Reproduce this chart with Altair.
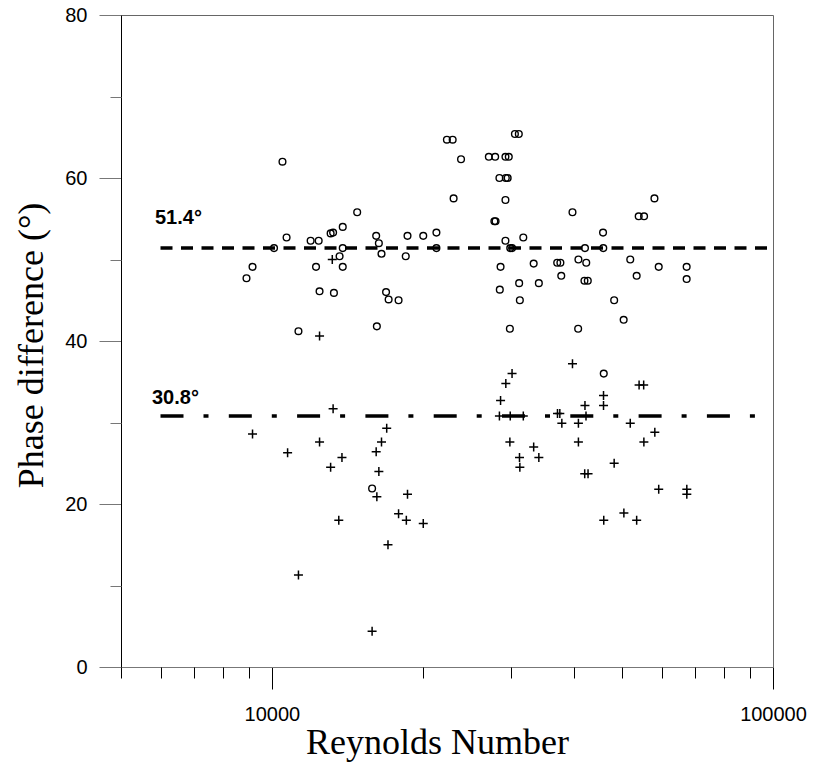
import altair as alt
import pandas as pd

# ---- data ----
circle_re = [8900, 9150, 10100, 10500, 10700, 11300, 11950, 12250, 12400, 12450,
             13100, 13250, 13300, 13650, 13850, 13850, 13850, 14800, 15850, 16150,
             16200, 16350, 16550, 16900, 17100, 17900, 18500, 18650, 20050, 21300,
             21300, 22350, 22950, 23050, 23850, 27100, 27900, 27800, 27950, 28450,
             28500, 28600, 29250, 29700, 29300, 29550, 29250, 29250, 29900, 30150,
             29850, 30550, 31100, 31150, 31250, 31750, 33300, 34100, 37100, 37650,
             37800, 39800, 40900, 40850, 42150, 42400, 42050, 42700, 45800, 45850,
             45950, 48200, 50350, 51900, 53450, 53950, 55300, 58000, 59150, 67250,
             67250]
circle_phase = [47.7, 49.1, 51.4, 62.0, 52.7, 41.2, 52.3, 49.1, 52.3, 46.1,
                53.2, 53.3, 45.9, 50.4, 54.0, 51.4, 49.1, 55.8, 21.9, 52.9,
                41.8, 52.0, 50.7, 46.0, 45.1, 45.0, 50.4, 52.9, 52.9, 53.3,
                51.4, 64.7, 64.7, 57.5, 62.3, 62.6, 62.6, 54.7, 54.7, 60.0,
                46.3, 49.1, 62.6, 62.6, 60.0, 60.0, 57.3, 52.3, 51.4, 51.4,
                41.5, 65.4, 65.4, 47.1, 45.0, 52.7, 49.5, 47.1, 49.6, 49.6,
                48.0, 55.8, 50.0, 41.5, 51.4, 49.6, 47.4, 47.4, 53.3, 51.4,
                36.0, 45.0, 42.6, 50.0, 48.0, 55.3, 55.3, 57.5, 49.1, 49.1,
                47.6]

cross_re = [9150, 10750, 11300, 12450, 12450, 13100, 13200, 13250, 13600, 13800,
            15850, 16150, 16200, 16350, 16550, 16950, 17050, 17900, 18550, 18650,
            20050, 28450, 28600, 29300, 29850, 29900, 30150, 31200, 31250, 31750,
            33300, 34100, 37150, 37550, 37900, 39800, 40900, 40900, 42150, 42350,
            42100, 42750, 45900, 45900, 45950, 48200, 50400, 51900, 53450, 54050,
            55200, 55250, 58100, 59150, 67300, 67300]
cross_phase = [28.6, 26.3, 11.3, 40.6, 27.6, 24.5, 50.0, 31.7, 18.0, 25.7,
               4.4, 26.4, 20.9, 24.0, 27.6, 29.3, 15.0, 18.8, 18.0, 21.2,
               17.6, 30.8, 32.7, 34.8, 27.6, 30.8, 36.0, 25.7, 24.5, 30.8,
               27.0, 25.7, 31.1, 31.1, 29.9, 37.2, 29.9, 27.6, 32.1, 30.8,
               23.7, 23.7, 33.3, 32.1, 18.0, 25.0, 18.9, 29.9, 18.0, 34.6,
               34.6, 27.6, 28.8, 21.8, 21.8, 21.2]

mean_lines = [51.4, 30.8]

x_major_ticks = [10000, 100000]
x_minor_ticks = [5000, 6000, 7000, 8000, 9000, 20000, 30000, 40000, 50000,
                 60000, 70000, 80000, 90000]
y_major_ticks = [0, 20, 40, 60, 80]
y_minor_ticks = [10, 30, 50, 70]

# ---- tables ----
circles = pd.DataFrame({"Re": circle_re, "phase": circle_phase})
crosses = pd.DataFrame({"Re": cross_re, "phase": cross_phase})
line_hi = pd.DataFrame({"v": [mean_lines[0]], "label": [f"{mean_lines[0]}°"]})
line_lo = pd.DataFrame({"v": [mean_lines[1]], "label": [f"{mean_lines[1]}°"]})

xscale = alt.Scale(type="log", domain=[5000, 100000], nice=False)
yscale = alt.Scale(domain=[0, 80], nice=False, zero=False)

SANS = "Liberation Sans"
SERIF = "Liberation Serif"

x_major = alt.Axis(orient="bottom", values=x_major_ticks, format="d", grid=False,
                   tickSize=22, tickColor="black", tickWidth=1,
                   domainColor="#777777", domainWidth=1,
                   labelFont=SANS, labelFontSize=20, labelColor="black",
                   labelBaseline="alphabetic", labelPadding=31,
                   labelFlush=False, labelOverlap=False, labelBound=False,
                   title="Reynolds Number", titleFont=SERIF, titleFontSize=36,
                   titleFontWeight="normal", titleColor="black",
                   titleX=316, titleY=86, titleAlign="center",
                   titleBaseline="alphabetic")
x_minor = alt.Axis(orient="bottom", values=x_minor_ticks, grid=False,
                   tickSize=11, tickColor="black", tickWidth=1,
                   labels=False, domain=False, title=None)
y_major = alt.Axis(orient="left", values=y_major_ticks, grid=False,
                   tickSize=22, tickColor="#777777", tickWidth=1,
                   domainColor="black", domainWidth=1,
                   labelFont=SANS, labelFontSize=20, labelColor="black",
                   labelPadding=12, labelBaseline="middle",
                   labelFlush=False, labelOverlap=False, labelBound=False,
                   title="Phase difference (°)", titleFont=SERIF,
                   titleFontSize=36, titleFontWeight="normal",
                   titleColor="black", titleX=-79, titleY=330,
                   titleAngle=270, titleAlign="center",
                   titleBaseline="alphabetic")
y_minor = alt.Axis(orient="left", values=y_minor_ticks, grid=False,
                   tickSize=11, tickColor="#777777", tickWidth=1,
                   labels=False, domain=False, title=None)

circ = alt.Chart(circles).mark_point(
    shape="circle", filled=False, size=45, strokeWidth=1.4,
    color="black", opacity=1
).encode(
    x=alt.X("Re:Q", scale=xscale, axis=x_major),
    y=alt.Y("phase:Q", scale=yscale, axis=y_major),
)

cross = alt.Chart(crosses).mark_point(
    shape="M -1 0 L 1 0 M 0 -1 L 0 1", filled=False, size=81,
    strokeWidth=1.5, color="black", opacity=1
).encode(
    x=alt.X("Re:Q", scale=xscale, axis=x_minor),
    y=alt.Y("phase:Q", scale=yscale, axis=y_minor),
)

rule_hi = alt.Chart(line_hi).mark_rule(
    color="black", strokeWidth=3.5, strokeDash=[12, 8.5]
).encode(
    y=alt.Y("v:Q", scale=yscale, axis=None),
    x=alt.value(39.5), x2=alt.value(652),
)
rule_lo = alt.Chart(line_lo).mark_rule(
    color="black", strokeWidth=3.5, strokeDash=[23, 20, 5, 20.3]
).encode(
    y=alt.Y("v:Q", scale=yscale, axis=None),
    x=alt.value(39.5), x2=alt.value(652),
)

text_hi = alt.Chart(line_hi).mark_text(
    align="left", baseline="alphabetic", dy=-24.4,
    font=SANS, fontSize=20, fontWeight="bold", color="black"
).encode(
    x=alt.value(34), y=alt.Y("v:Q", scale=yscale, axis=None), text="label:N"
)
text_lo = alt.Chart(line_lo).mark_text(
    align="left", baseline="alphabetic", dy=-11.7,
    font=SANS, fontSize=20, fontWeight="bold", color="black"
).encode(
    x=alt.value(31), y=alt.Y("v:Q", scale=yscale, axis=None), text="label:N"
)

chart = alt.layer(
    rule_hi, rule_lo, circ, cross, text_hi, text_lo
).resolve_axis(
    x="independent", y="independent"
).properties(
    width=652, height=652,
    autosize=alt.AutoSizeParams(type="none"),
    padding={"left": 121, "top": 15, "right": 40, "bottom": 98},
    background="white",
).configure_view(
    stroke="#666666", strokeWidth=1
)

chart.save("out.html", embed_options={"renderer": "svg", "actions": False})
